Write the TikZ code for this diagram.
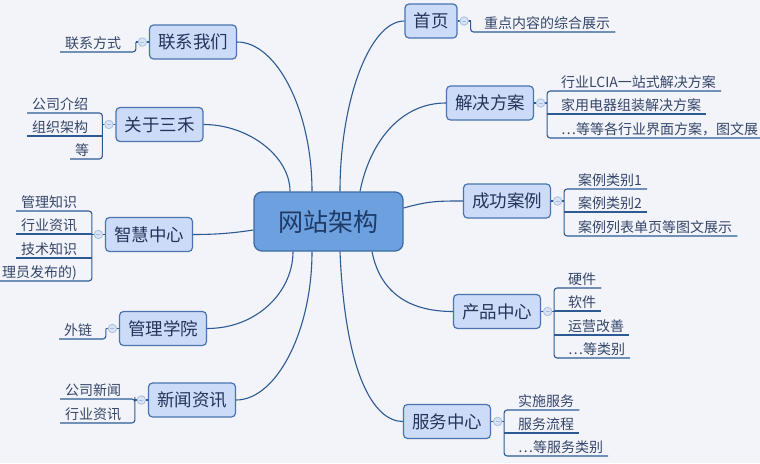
\documentclass[tikz,border=0pt]{standalone}
\usepackage{fontspec}
\setmainfont{Noto Sans CJK SC}
\usepackage{tikz}
\usetikzlibrary{positioning}
\definecolor{bgcol}{HTML}{F2F4F9}
\definecolor{rootfill}{HTML}{6CA0DE}
\definecolor{rootline}{HTML}{3D6CA8}
\definecolor{roottext}{HTML}{1E3A66}
\definecolor{topicfill}{HTML}{CCDCF8}
\definecolor{topicline}{HTML}{4874B0}
\definecolor{topictext}{HTML}{22345A}
\definecolor{leaftext}{HTML}{35466A}
\definecolor{linecol}{HTML}{2E5A94}
\definecolor{foldfill}{HTML}{D8E4F6}
\definecolor{foldline}{HTML}{A8BEE0}

\begin{document}
\begin{tikzpicture}[x=1pt,y=-1pt,
    root/.style={draw=rootline,fill=rootfill,line width=1.3pt,rounded corners=8pt,minimum width=149pt,minimum height=59pt,font=\fontsize{25}{25}\selectfont,text=roottext},
    topic/.style={draw=topicline,fill=topicfill,line width=1.2pt,rounded corners=4pt,minimum height=34pt,inner xsep=8.5pt,font=\fontsize{17.5}{17.5}\selectfont,text=topictext},
    fold/.style={circle,minimum size=8.5pt,inner sep=0pt,outer sep=2.25pt,fill=foldfill,draw=foldline,line width=0.8pt,
        path picture={\draw[foldline,line width=0.8pt] ([xshift=-2pt]path picture bounding box.center) -- ([xshift=2pt]path picture bounding box.center);}},
    leaf/.style={anchor=south west,inner xsep=5pt,inner ysep=3.5pt,text depth=0pt,font=\fontsize{14}{14}\selectfont,text=leaftext},
    branch/.style={draw=linecol,line width=1.1pt},
    bracket/.style={draw=linecol,line width=1.1pt,rounded corners=3pt}]
    \fill[bgcol] (0,0) rectangle (760,463);
    \useasboundingbox (0,0) rectangle (760,463);

    \node[root] (root) at (328.5,221.5) {网站架构};

    \node[topic] (home) at (431,21) {首页};
    \node[topic] (solution) at (490,103) {解决方案};
    \node[topic] (cases) at (507,201) {成功案例};
    \node[topic] (products) at (497,311.5) {产品中心};
    \node[topic] (service) at (447,421.5) {服务中心};
    \node[topic] (contact) at (193,42) {联系我们};
    \node[topic] (about) at (159.5,124.5) {关于三禾};
    \node[topic] (wisdom) at (149,234.5) {智慧中心};
    \node[topic] (academy) at (163,328.5) {管理学院};
    \node[topic] (news) at (192,400) {新闻资讯};

    \draw[branch] (contact.east) .. controls +(40,0) and +(0,-80) .. ([xshift=-16.5pt]root.north);
    \draw[branch] (about.east) .. controls +(45,0) and +(0,-35) .. ([xshift=-38.5pt]root.north);
    \draw[branch] (wisdom.east) .. controls +(25,0) and +(-20,3) .. ([yshift=-8.5pt]root.west);
    \draw[branch] (academy.east) .. controls +(50,0) and +(0,40) .. ([xshift=-35.5pt]root.south);
    \draw[branch] (news.east) .. controls +(40,0) and +(0,80) .. ([xshift=-16.5pt]root.south);
    \draw[branch] ([xshift=11.5pt]root.north) .. controls +(0,-90) and +(-35,0) .. (home.west);
    \draw[branch] ([xshift=31.5pt]root.north) .. controls +(10,-50) and +(-45,0) .. (solution.west);
    \draw[branch] ([yshift=13.5pt]root.east) .. controls +(25,-7) and +(-25,0) .. (cases.west);
    \draw[branch] ([xshift=43.5pt]root.south) .. controls +(8,40) and +(-45,0) .. (products.west);
    \draw[branch] ([xshift=11.5pt]root.south) .. controls +(5,120) and +(-30,0) .. (service.west);

    \draw[branch] (home.east) -- ++(13,0) node[fold,midway] (homef) {};
    \draw[branch] (solution.east) -- ++(13,0) node[fold,midway] (solutionf) {};
    \draw[branch] (cases.east) -- ++(13,0) node[fold,midway] (casesf) {};
    \draw[branch] (products.east) -- ++(13,0) node[fold,midway] (productsf) {};
    \draw[branch] (service.east) -- ++(13,0) node[fold,midway] (servicef) {};
    \draw[branch] (contact.west) -- ++(-13,0) node[fold,midway] (contactf) {};
    \draw[branch] (about.west) -- ++(-13,0) node[fold,midway] (aboutf) {};
    \draw[branch] (wisdom.west) -- ++(-13,0) node[fold,midway] (wisdomf) {};
    \draw[branch] (academy.west) -- ++(-13,0) node[fold,midway] (academyf) {};
    \draw[branch] (news.west) -- ++(-13,0) node[fold,midway] (newsf) {};

    \node[leaf] (home1) at (479,32) {重点内容的综合展示};
    \node[leaf] (solution1) at (556,91) {行业LCIA一站式解决方案};
    \node[leaf] (solution2) at (556,114) {家用电器组装解决方案};
    \node[leaf] (solution3) at (556,138) {…等等各行业界面方案，图文展};
    \node[leaf] (cases1) at (573,189) {案例类别1};
    \node[leaf] (cases2) at (573,212) {案例类别2};
    \node[leaf] (cases3) at (573,236) {案例列表单页等图文展示};
    \node[leaf] (products1) at (563,288) {硬件};
    \node[leaf] (products2) at (563,311) {软件};
    \node[leaf] (products3) at (563,335) {运营改善};
    \node[leaf] (products4) at (563,358) {…等类别};
    \node[leaf] (service1) at (513,410) {实施服务};
    \node[leaf] (service2) at (513,433) {服务流程};
    \node[leaf] (service3) at (513,456) {…等服务类别};
    \node[leaf] (contact1) at (60,52) {联系方式};
    \node[leaf] (about1) at (27,113) {公司介绍};
    \node[leaf] (about2) at (27,136) {组织架构};
    \node[leaf] (about3) at (70,159) {等};
    \node[leaf] (wisdom1) at (16,211) {管理知识};
    \node[leaf] (wisdom2) at (16,234) {行业资讯};
    \node[leaf] (wisdom3) at (16,258) {技术知识};
    \node[leaf] (wisdom4) at (-3,281) {理员发布的)};
    \node[leaf] (academy1) at (59,339) {外链};
    \node[leaf] (news1) at (60,399) {公司新闻};
    \node[leaf] (news2) at (60,423) {行业资讯};

    \draw[bracket] (homef.east) |- (home1.south east);
    \draw[bracket] (solution1.south east) -| (solutionf.east) |- (solution3.south east);
    \draw[bracket] (solutionf.east |- solution2.south) -- (solution2.south east);
    \draw[bracket] (cases1.south east) -| (casesf.east) |- (cases3.south east);
    \draw[bracket] (casesf.east |- cases2.south) -- (cases2.south east);
    \draw[bracket] (products1.south east) -| (productsf.east) |- (products4.south east);
    \draw[bracket] (productsf.east |- products2.south) -- (products2.south east);
    \draw[bracket] (productsf.east |- products3.south) -- (products3.south east);
    \draw[bracket] (service1.south east) -| (servicef.east) |- (service3.south east);
    \draw[bracket] (servicef.east |- service2.south) -- (service2.south east);
    \draw[bracket] (contactf.west) |- (contact1.south west);
    \draw[bracket] (about1.south west) -| (aboutf.west) |- (about3.south west);
    \draw[bracket] (aboutf.west |- about2.south) -- (about2.south west);
    \draw[bracket] (wisdom1.south west) -| (wisdomf.west) |- (wisdom4.south west);
    \draw[bracket] (wisdomf.west |- wisdom2.south) -- (wisdom2.south west);
    \draw[bracket] (wisdomf.west |- wisdom3.south) -- (wisdom3.south west);
    \draw[bracket] (academyf.west) |- (academy1.south west);
    \draw[bracket] (news1.south west) -| (newsf.west) |- (news2.south west);
\end{tikzpicture}
\end{document}
